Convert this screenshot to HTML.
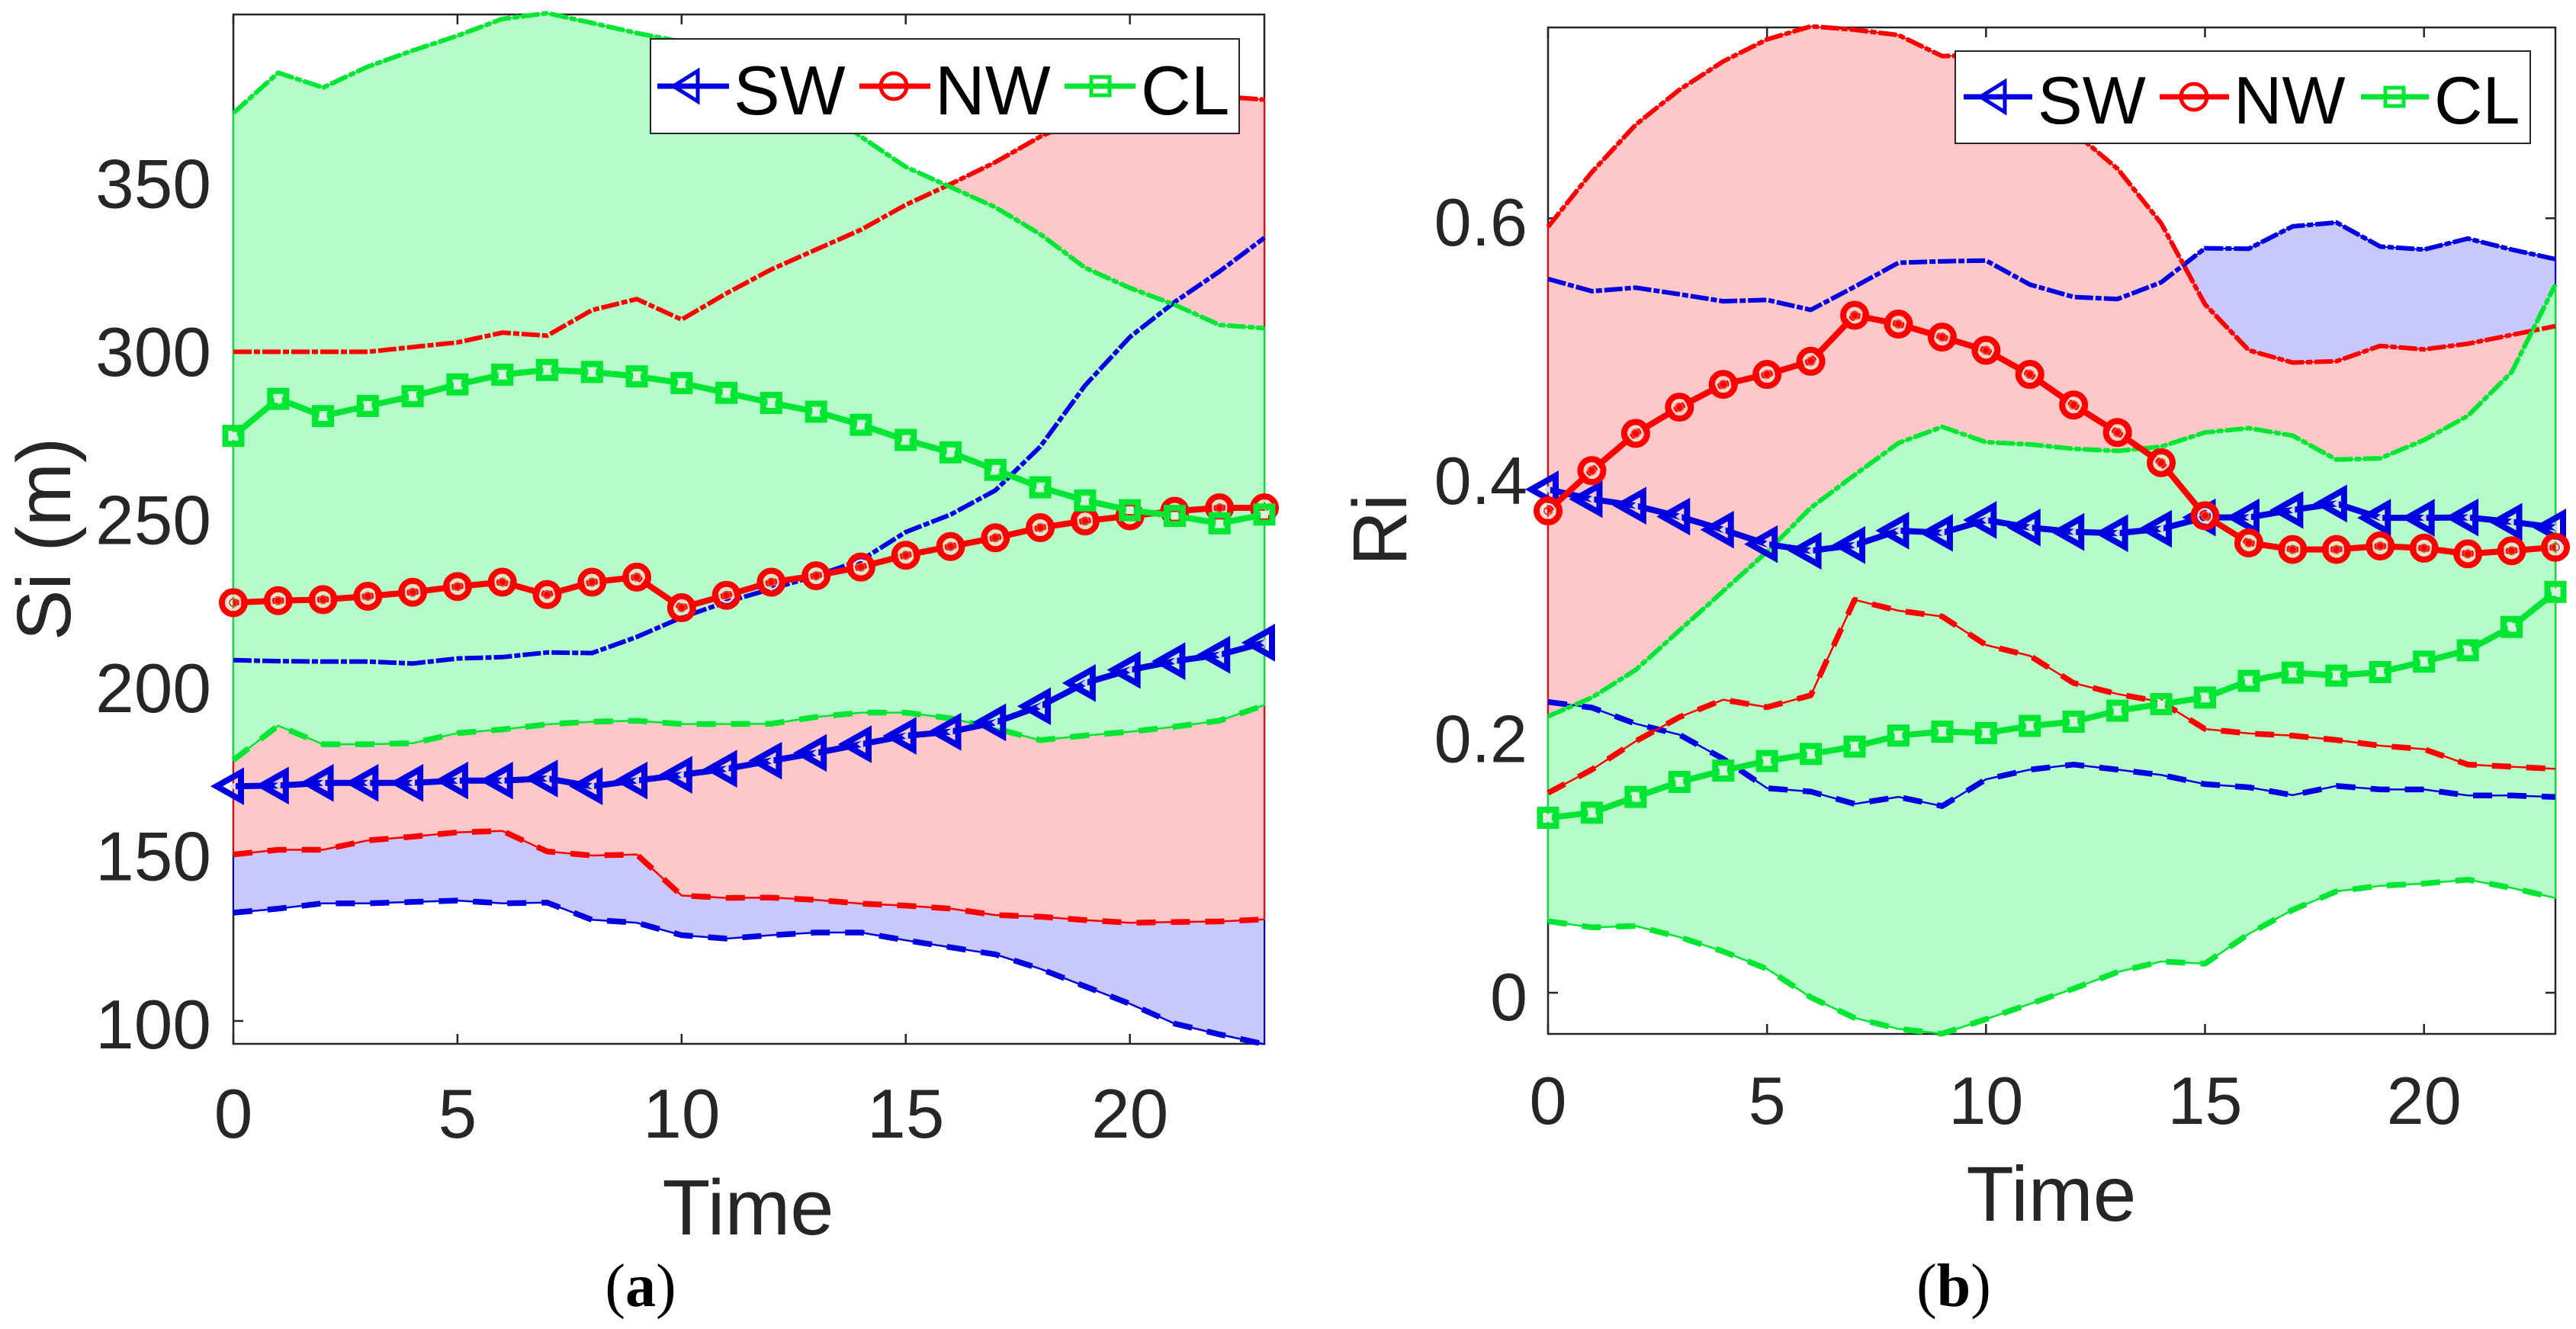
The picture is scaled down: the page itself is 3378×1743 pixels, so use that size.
<!DOCTYPE html>
<html>
<head>
<meta charset="utf-8">
<title>Si and Ri over time</title>
<style>
html,body{margin:0;padding:0;background:#fff;}
svg{display:block;}
text{font-family:"Liberation Sans",sans-serif;}
</style>
</head>
<body>
<svg id="figure" width="3378" height="1743" viewBox="0 0 3378 1743" xmlns="http://www.w3.org/2000/svg"></svg>
<script>
const timeSteps = [0,1,2,3,4,5,6,7,8,9,10,11,12,13,14,15,16,17,18,19,20,21,22,23];
const xTickValues = [0,5,10,15,20];
const siTickValues = [100,150,200,250,300,350];
const siTickLabels = ['100','150','200','250','300','350'];
const riTickValues = [0,0.2,0.4,0.6];
const riTickLabels = ['0','0.2','0.4','0.6'];
const legendLabels = ['SW','NW','CL'];

const siSwUpper = [207.3,207,206.9,206.9,206.3,207.8,208.2,209.6,209.4,214.2,220,224.6,228.5,232.4,237,245.4,250.6,257.8,270.8,289,303.4,313.8,322.9,332.9];
const siSwMean = [169.8,170,170.8,170.8,170.8,171.5,171.5,172.1,169.8,171.5,173.2,175,177.4,179.7,182.3,184.8,186,188.8,193.6,200.5,204.4,207,208.9,212.5];
const siSwLower = [132.2,133.4,135,135,135.4,135.8,135,135.2,130.1,129.2,125.5,124.5,125.5,126.3,126.3,124,121.9,119.8,115.5,110.3,105.1,99.2,96,93.1];
const siNwUpper = [299,299,299,299,300.4,301.8,304.7,303.8,311.4,314.7,308.6,316.4,323.5,329.4,335.3,342.7,348.9,355.4,363,369,373,376,375,374];
const siNwMean = [224.4,225,225.3,226.3,227.5,229.2,230.5,226.8,230.5,232,222.9,226.6,230.5,232.4,235,238.5,241.1,243.7,246.7,248.7,250.2,251.6,252.6,252.6];
const siNwLower = [149.5,150.9,150.9,153.7,154.8,156.1,156.5,150.4,149.2,149.5,137.3,136.6,136.7,136,134.9,134.3,133.4,131.5,131,130,129.2,129.4,129.6,130.2];
const siClUpper = [370,382,377.6,383.8,388.6,393,398,399.7,396.8,393.8,391.2,386,380,373,363,354,348,342,334,324,318,313,307,306];
const siClMean = [274,285,279.9,282.9,285.8,289.3,292.2,293.6,293,291.7,289.7,286.8,283.8,281.2,277.3,272.8,269.1,263.9,258.7,254.8,251.9,250.2,248,250.6];
const siClLower = [177.6,187.8,182.3,182.3,182.6,185.6,186.7,188.2,189,189.3,188.3,188.3,188.4,190.4,191.7,191.7,190,187,183.5,184.9,186,187.5,189.3,193.9];

const riSwUpper = [0.553,0.5435,0.5462,0.5411,0.5357,0.5367,0.529,0.5469,0.5655,0.5666,0.5672,0.5486,0.539,0.5374,0.5503,0.5767,0.5764,0.5937,0.5967,0.578,0.5757,0.5842,0.5757,0.5683];
const riSwMean = [0.3899,0.3824,0.3773,0.3689,0.3587,0.3475,0.3424,0.3468,0.358,0.3563,0.3662,0.3604,0.357,0.356,0.3594,0.3682,0.3682,0.374,0.379,0.3679,0.3679,0.3682,0.3648,0.3604];
const riSwLower = [0.2253,0.2209,0.2084,0.1999,0.1812,0.1585,0.1558,0.1463,0.1517,0.1446,0.1653,0.1728,0.1768,0.1728,0.1687,0.1616,0.1592,0.1531,0.1602,0.1575,0.1575,0.1528,0.1528,0.1517];
const riNwUpper = [0.5933,0.6357,0.6724,0.6995,0.7215,0.7385,0.7487,0.746,0.7419,0.7256,0.7266,0.6927,0.667,0.6384,0.596,0.5333,0.4977,0.4882,0.4892,0.5011,0.4984,0.5028,0.5096,0.5164];
const riNwMean = [0.3733,0.4045,0.4333,0.4536,0.4713,0.479,0.4892,0.5248,0.518,0.5079,0.4977,0.479,0.4553,0.434,0.4106,0.3695,0.3485,0.3434,0.3434,0.3461,0.3444,0.34,0.3424,0.3451];
const riNwLower = [0.1548,0.1728,0.1948,0.2135,0.227,0.2212,0.2304,0.3044,0.296,0.2915,0.2694,0.261,0.2399,0.2314,0.2253,0.2043,0.2009,0.1992,0.1958,0.1914,0.1887,0.1768,0.1751,0.1734];
const riClUpper = [0.2141,0.2287,0.2501,0.2807,0.3112,0.3417,0.3757,0.4011,0.4258,0.4384,0.4265,0.4248,0.4214,0.4197,0.4231,0.434,0.4374,0.4316,0.413,0.414,0.4282,0.4469,0.4808,0.5486];
const riClMean = [0.1355,0.1395,0.1517,0.1633,0.1721,0.1795,0.185,0.1907,0.1992,0.2023,0.2012,0.2067,0.21,0.2185,0.2236,0.2287,0.2416,0.248,0.2457,0.2484,0.2565,0.2653,0.2834,0.3105];
const riClLower = [0.0554,0.0507,0.0517,0.0432,0.032,0.0185,-0.0036,-0.0195,-0.028,-0.0317,-0.0205,-0.0087,0.0032,0.016,0.0242,0.0225,0.0456,0.0642,0.0785,0.0829,0.0846,0.0876,0.0812,0.0734];

const NS = 'http://www.w3.org/2000/svg';
const figure = document.getElementById('figure');
const BLUE = '#0000e0', RED = '#ff0000', GREEN = '#00e632';
const FILL_BLUE = '#c8c8fc', FILL_RED = '#ffc8c8', FILL_GREEN = '#b5fdc8';
const INK = '#262626';

function add(parent, tag, attrs) {
  const el = document.createElementNS(NS, tag);
  for (const k in attrs) el.setAttribute(k, attrs[k]);
  parent.appendChild(el);
  return el;
}
function pointsOf(vals, xf, yf) {
  return vals.map((v, i) => xf(timeSteps[i]).toFixed(1) + ',' + yf(v).toFixed(1)).join(' ');
}
function circleMarker(g, cx, cy) {
  add(g, 'circle', {cx: cx, cy: cy, r: 15, fill: 'none', stroke: RED, 'stroke-width': 8});
  add(g, 'circle', {cx: cx, cy: cy, r: 9, fill: 'none', stroke: '#ffd8c8', 'stroke-width': 2.5});
  add(g, 'circle', {cx: cx, cy: cy, r: 5, fill: 'none', stroke: '#f04030', 'stroke-width': 2});
}
function triangleMarker(g, cx, cy) {
  add(g, 'polygon', {points: (cx - 22) + ',' + cy + ' ' + (cx + 10) + ',' + (cy - 18) + ' ' + (cx + 10) + ',' + (cy + 18), fill: 'none', stroke: BLUE, 'stroke-width': 8, 'stroke-linejoin': 'miter'});
  add(g, 'polygon', {points: (cx - 5) + ',' + cy + ' ' + (cx + 3) + ',' + (cy - 6) + ' ' + (cx + 3) + ',' + (cy + 6), fill: '#d8d0f8', stroke: 'none'});
}
function squareMarker(g, cx, cy) {
  add(g, 'rect', {x: cx - 10.5, y: cy - 10.5, width: 21, height: 21, fill: 'none', stroke: GREEN, 'stroke-width': 8});
  add(g, 'rect', {x: cx - 5, y: cy - 5, width: 10, height: 10, fill: '#d0f8d8', stroke: 'none'});
}
function drawBand(svg, name, upper, lower, fill, color, xf, yf) {
  const up = upper.map((v, i) => [xf(timeSteps[i]), yf(v)]);
  const lo = lower.map((v, i) => [xf(timeSteps[i]), yf(v)]).reverse();
  const poly = add(svg, 'polygon', {
    points: up.concat(lo).map(p => p[0].toFixed(1) + ',' + p[1].toFixed(1)).join(' '),
    fill: fill, stroke: color, 'stroke-width': 2
  });
  
  
}
function drawEdges(svg, name, upper, lower, color, xf, yf) {
  const upLine = add(svg, 'polyline', {points: pointsOf(upper, xf, yf), fill: 'none', stroke: color, 'stroke-width': 6, 'stroke-dasharray': '24 3 8 3', 'stroke-linejoin': 'round'});
  
  
  const loThin = add(svg, 'polyline', {points: pointsOf(lower, xf, yf), fill: 'none', stroke: color, 'stroke-width': 2.5});
  
  
  const loLine = add(svg, 'polyline', {points: pointsOf(lower, xf, yf), fill: 'none', stroke: color, 'stroke-width': 7.5, 'stroke-dasharray': '25 20', 'stroke-linejoin': 'round'});
  
  
}
function drawMean(svg, name, vals, color, markerFn, xf, yf) {
  const g = add(svg, 'g', {});
  
  
  add(g, 'polyline', {points: pointsOf(vals, xf, yf), fill: 'none', stroke: color, 'stroke-width': 8, 'stroke-linejoin': 'round'});
  vals.forEach((v, i) => markerFn(g, xf(timeSteps[i]), yf(v)));
}
function drawAxes(svg, prefix, box, xf, yf, yTicks, yLabels, fs, yLabelRight, xBase) {
  const frame = add(svg, 'rect', {x: box.l, y: box.t, width: box.r - box.l, height: box.b - box.t, fill: '#fff', stroke: INK, 'stroke-width': 2.5});
  
  
  xTickValues.forEach(t => {
    const x = xf(t);
    const tk = add(svg, 'path', {d: 'M' + x + ' ' + box.b + 'V' + (box.b - 13) + 'M' + x + ' ' + box.t + 'V' + (box.t + 13), stroke: INK, 'stroke-width': 2.5, fill: 'none'});
    
    
    const lb = add(svg, 'text', {x: x, y: xBase, 'text-anchor': 'middle', 'font-size': fs, fill: INK});
    lb.textContent = String(t);
    
    
  });
  yTicks.forEach((v, i) => {
    const y = yf(v);
    const tk = add(svg, 'path', {d: 'M' + box.l + ' ' + y + 'H' + (box.l + 13) + 'M' + box.r + ' ' + y + 'H' + (box.r - 13), stroke: INK, 'stroke-width': 2.5, fill: 'none'});
    
    
    const lb = add(svg, 'text', {x: yLabelRight, y: y + 36, 'text-anchor': 'end', 'font-size': fs, fill: INK});
    lb.textContent = yLabels[i];
    
    
  });
}
function drawLegend(svg, prefix, L) {
  const g = add(svg, 'g', {});
  
  
  add(g, 'rect', {x: L.l, y: L.t, width: L.r - L.l, height: L.b - L.t, fill: '#fff', stroke: INK, 'stroke-width': 2});
  const colors = [BLUE, RED, GREEN];
  L.items.forEach((it, i) => {
    add(g, 'line', {x1: it.x1, x2: it.x2, y1: L.y, y2: L.y, stroke: colors[i], 'stroke-width': 7});
    if (i === 0) {
      add(g, 'polygon', {points: (it.m - 21) + ',' + L.y + ' ' + (it.m + 11) + ',' + (L.y - 20) + ' ' + (it.m + 11) + ',' + (L.y + 20), fill: 'none', stroke: colors[i], 'stroke-width': 5});
    } else if (i === 1) {
      add(g, 'circle', {cx: it.m, cy: L.y, r: 17, fill: 'none', stroke: colors[i], 'stroke-width': 5});
    } else {
      add(g, 'rect', {x: it.m - 12, y: L.y - 12, width: 24, height: 24, fill: 'none', stroke: colors[i], 'stroke-width': 5});
    }
    const t = add(g, 'text', {x: it.tx, y: L.base, 'font-size': L.fs, fill: '#000'});
    t.textContent = legendLabels[i];
    
    
  });
}
function caption(svg, name, cx, letter) {
  const t = add(svg, 'text', {x: cx, y: 1713, 'text-anchor': 'middle', 'font-size': 80, fill: '#000'});
  t.style.fontFamily = '"Liberation Serif",serif';
  const a = add(t, 'tspan', {});
  a.textContent = '(';
  const b = add(t, 'tspan', {'font-weight': 'bold'});
  b.textContent = letter;
  const c = add(t, 'tspan', {});
  c.textContent = ')';
  
  
}

/* Panel (a) */
const boxA = {l: 306, r: 1658, t: 19, b: 1369};
const xA = t => boxA.l + t * (boxA.r - boxA.l) / 23;
const yA = v => 1339 - (v - 100) * 4.41;
drawAxes(figure, 'si', boxA, xA, yA, siTickValues, siTickLabels, 91, 277, 1492);
drawBand(figure, 'si-sw', siSwUpper, siSwLower, FILL_BLUE, BLUE, xA, yA);
drawBand(figure, 'si-nw', siNwUpper, siNwLower, FILL_RED, RED, xA, yA);
drawBand(figure, 'si-cl', siClUpper, siClLower, FILL_GREEN, GREEN, xA, yA);
drawEdges(figure, 'si-sw', siSwUpper, siSwLower, BLUE, xA, yA);
drawEdges(figure, 'si-nw', siNwUpper, siNwLower, RED, xA, yA);
drawEdges(figure, 'si-cl', siClUpper, siClLower, GREEN, xA, yA);
drawMean(figure, 'si-sw', siSwMean, BLUE, triangleMarker, xA, yA);
drawMean(figure, 'si-nw', siNwMean, RED, circleMarker, xA, yA);
drawMean(figure, 'si-cl', siClMean, GREEN, squareMarker, xA, yA);
drawLegend(figure, 'si', {l: 853, r: 1625, t: 51, b: 175, y: 113, base: 150, fs: 91, items: [
  {x1: 862, x2: 956, m: 904, tx: 962},
  {x1: 1127, x2: 1220, m: 1172, tx: 1226},
  {x1: 1396, x2: 1489, m: 1443, tx: 1496}
]});
const timeA = add(figure, 'text', {x: 981, y: 1619, 'text-anchor': 'middle', 'font-size': 103, fill: INK});
timeA.textContent = 'Time';


const siTitle = add(figure, 'text', {transform: 'translate(92,707) rotate(-90)', 'text-anchor': 'middle', 'font-size': 100, fill: INK});
siTitle.textContent = 'Si (m)';


caption(figure, 'panel-a-caption', 840, 'a');

/* Panel (b) */
const boxB = {l: 2030, r: 3351, t: 36, b: 1356};
const xB = t => boxB.l + t * (boxB.r - boxB.l) / 23;
const yB = v => 1302 - v * 1693;
drawAxes(figure, 'ri', boxB, xB, yB, riTickValues, riTickLabels, 88, 2003, 1474);
drawBand(figure, 'ri-sw', riSwUpper, riSwLower, FILL_BLUE, BLUE, xB, yB);
drawBand(figure, 'ri-nw', riNwUpper, riNwLower, FILL_RED, RED, xB, yB);
drawBand(figure, 'ri-cl', riClUpper, riClLower, FILL_GREEN, GREEN, xB, yB);
drawEdges(figure, 'ri-sw', riSwUpper, riSwLower, BLUE, xB, yB);
drawEdges(figure, 'ri-nw', riNwUpper, riNwLower, RED, xB, yB);
drawEdges(figure, 'ri-cl', riClUpper, riClLower, GREEN, xB, yB);
drawMean(figure, 'ri-sw', riSwMean, BLUE, triangleMarker, xB, yB);
drawMean(figure, 'ri-nw', riNwMean, RED, circleMarker, xB, yB);
drawMean(figure, 'ri-cl', riClMean, GREEN, squareMarker, xB, yB);
drawLegend(figure, 'ri', {l: 2564, r: 3318, t: 67, b: 188, y: 127, base: 162, fs: 88, items: [
  {x1: 2575, x2: 2665, m: 2618, tx: 2672},
  {x1: 2832, x2: 2923, m: 2877, tx: 2929},
  {x1: 3096, x2: 3185, m: 3140, tx: 3192}
]});
const timeB = add(figure, 'text', {x: 2690, y: 1601, 'text-anchor': 'middle', 'font-size': 102, fill: INK});
timeB.textContent = 'Time';


const riTitle = add(figure, 'text', {transform: 'translate(1844,695) rotate(-90)', 'text-anchor': 'middle', 'font-size': 100, fill: INK});
riTitle.textContent = 'Ri';


caption(figure, 'panel-b-caption', 2562, 'b');
</script>
</body>
</html>
